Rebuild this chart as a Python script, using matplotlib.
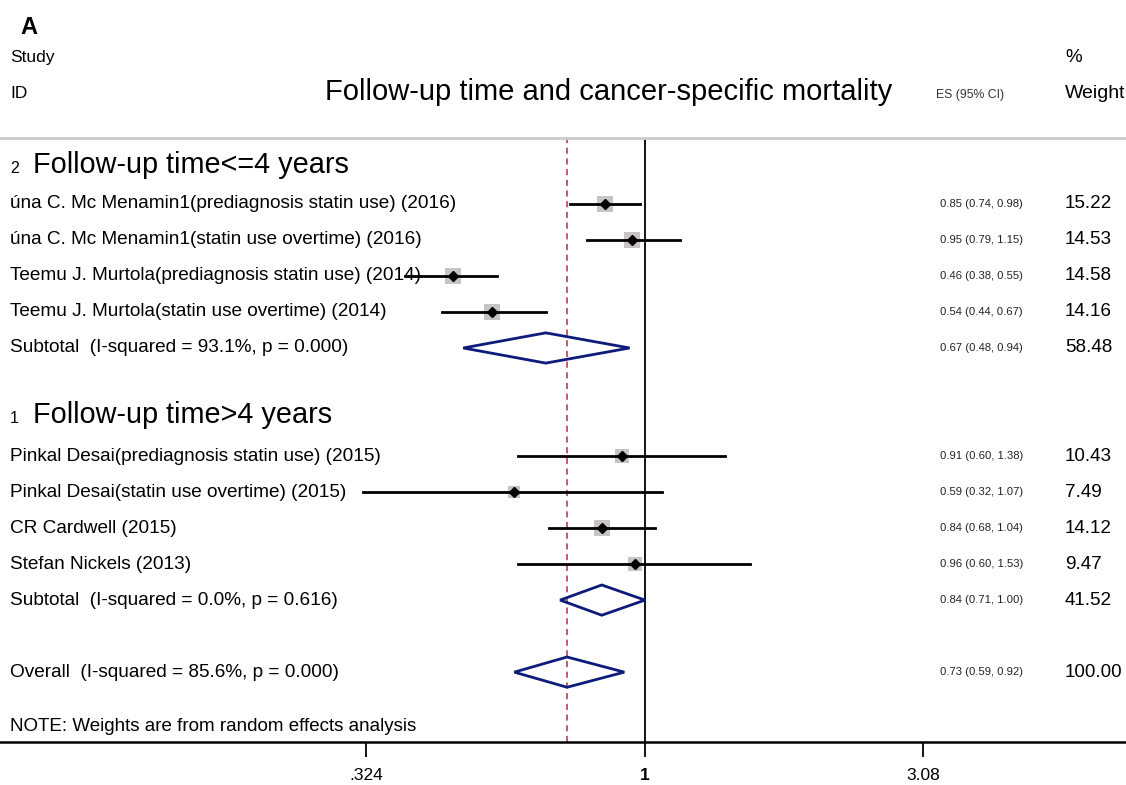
import matplotlib.pyplot as plt
from matplotlib.ticker import NullLocator

plt.rcParams["font.family"] = ["Liberation Sans", "DejaVu Sans"]

# study rows (top group: follow-up <= 4 years, bottom group: > 4 years)
STUDY_LABELS = [
    "úna C. Mc Menamin1(prediagnosis statin use) (2016)",
    "úna C. Mc Menamin1(statin use overtime) (2016)",
    "Teemu J. Murtola(prediagnosis statin use) (2014)",
    "Teemu J. Murtola(statin use overtime) (2014)",
    "Pinkal Desai(prediagnosis statin use) (2015)",
    "Pinkal Desai(statin use overtime) (2015)",
    "CR Cardwell (2015)",
    "Stefan Nickels (2013)",
]
STUDY_ES = [0.85, 0.95, 0.46, 0.54, 0.91, 0.59, 0.84, 0.96]
STUDY_LO = [0.74, 0.79, 0.38, 0.44, 0.60, 0.32, 0.68, 0.60]
STUDY_HI = [0.98, 1.15, 0.55, 0.67, 1.38, 1.07, 1.04, 1.53]
STUDY_W = [15.22, 14.53, 14.58, 14.16, 10.43, 7.49, 14.12, 9.47]
STUDY_ROWS = [1, 2, 3, 4, 8, 9, 10, 11]

POOLED_LABELS = [
    "Subtotal  (I-squared = 93.1%, p = 0.000)",
    "Subtotal  (I-squared = 0.0%, p = 0.616)",
    "Overall  (I-squared = 85.6%, p = 0.000)",
]
POOLED_ES = [0.67, 0.84, 0.73]
POOLED_LO = [0.48, 0.71, 0.59]
POOLED_HI = [0.94, 1.00, 0.92]
POOLED_W = [58.48, 41.52, 100.00]
POOLED_ROWS = [5, 12, 14]

GROUP_NUMS = ["2", "1"]
GROUP_TITLES = ["Follow-up time<=4 years", "Follow-up time>4 years"]
GROUP_ROWS = [-0.08, 6.86]

TICKS = [0.324, 1, 3.08]
TICK_LABELS = [".324", "1", "3.08"]

NAVY = "#0d1b7a"
X_LABEL = 10 / 1126
X_ES = 940 / 1126
X_W = 1065 / 1126
LABEL_FS = 13.7

fig = plt.figure(figsize=(11.26, 7.85), dpi=100)
ax = fig.add_axes([0, 43 / 785, 1, 604 / 785])
ax.set_xscale("log")
ax.set_xlim(0.0739, 6.98)
ax.set_ylim(15.94, -0.83)
ax.xaxis.set_minor_locator(NullLocator())
ax.set_yticks([])
ax.set_xticks(TICKS)
ax.set_xticklabels(TICK_LABELS, fontsize=12.5)
ax.get_xticklabels()[1].set_fontweight("bold")
ax.tick_params(axis="x", length=11, width=1.3, pad=8)
for side in ("left", "right"):
    ax.spines[side].set_visible(False)
ax.spines["top"].set_color("#cccccc")
ax.spines["top"].set_linewidth(2)
ax.spines["bottom"].set_linewidth(1.8)

tr = ax.get_yaxis_transform()

# reference lines
ax.axvline(1, color="black", lw=1.3, zorder=1)
ax.axvline(POOLED_ES[2], color="#b0303a", lw=1.1, ls=(0, (4, 3)), zorder=1)

# studies
for lab, es, lo, hi, w, row in zip(STUDY_LABELS, STUDY_ES, STUDY_LO, STUDY_HI, STUDY_W, STUDY_ROWS):
    ax.scatter([es], [row], marker="s", s=w * 9.5, color="#c8c4c4", zorder=2, linewidths=0)
    ax.plot([lo, hi], [row, row], color="black", lw=2, zorder=3)
    ax.plot([es], [row], marker="D", ms=5, color="black", zorder=4)
    ax.text(X_LABEL, row, lab, transform=tr, fontsize=LABEL_FS, va="center", ha="left")
    ax.text(X_ES, row, f"{es:.2f} ({lo:.2f}, {hi:.2f})", transform=tr, fontsize=8.1,
            va="center", color="#222222")
    ax.text(X_W, row, f"{w:.2f}", transform=tr, fontsize=13.6, va="center")

# pooled diamonds
for lab, es, lo, hi, w, row in zip(POOLED_LABELS, POOLED_ES, POOLED_LO, POOLED_HI, POOLED_W, POOLED_ROWS):
    ax.fill([lo, es, hi, es], [row, row - 0.42, row, row + 0.42], fill=False,
            edgecolor=NAVY, lw=2, zorder=3)
    ax.text(X_LABEL, row, lab, transform=tr, fontsize=LABEL_FS, va="center", ha="left")
    ax.text(X_ES, row, f"{es:.2f} ({lo:.2f}, {hi:.2f})", transform=tr, fontsize=8.1,
            va="center", color="#222222")
    ax.text(X_W, row, f"{w:.2f}", transform=tr, fontsize=13.6, va="center")

# group headers
for num, title, row in zip(GROUP_NUMS, GROUP_TITLES, GROUP_ROWS):
    ax.text(X_LABEL, row + 0.1, num, transform=tr, fontsize=11.5, va="center")
    ax.text(33 / 1126, row, title, transform=tr, fontsize=20.8, va="center")

ax.text(X_LABEL, 15.5, "NOTE: Weights are from random effects analysis", transform=tr,
        fontsize=13.5, va="center")

# header block
ax.text(20 / 1126, -3.89, "A", transform=tr, fontsize=17, fontweight="bold", va="center", clip_on=False)
ax.text(X_LABEL, -3.06, "Study", transform=tr, fontsize=12.5, va="center", clip_on=False)
ax.text(X_LABEL, -2.06, "ID", transform=tr, fontsize=12.5, va="center", clip_on=False)
ax.text(609 / 1126, -2.11, "Follow-up time and cancer-specific mortality", transform=tr,
        fontsize=21, va="center", ha="center", clip_on=False)
ax.text(970 / 1126, -2.03, "ES (95% CI)", transform=tr, fontsize=8.8, va="center", ha="center",
        color="#333333", clip_on=False)
ax.text(X_W, -3.06, "%", transform=tr, fontsize=13.5, va="center", clip_on=False)
ax.text(X_W, -2.06, "Weight", transform=tr, fontsize=14, va="center", clip_on=False)

fig.savefig("out.png", dpi=100, facecolor="white")
